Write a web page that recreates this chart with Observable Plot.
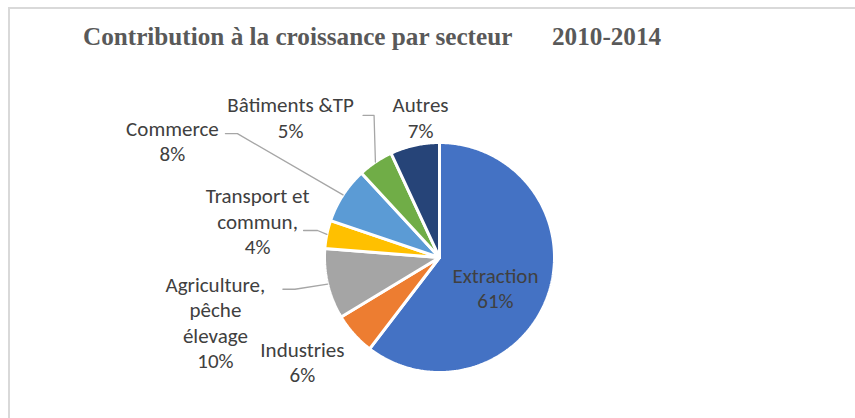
<!DOCTYPE html>
<html><head><meta charset="utf-8">
<script src="https://cdn.jsdelivr.net/npm/d3@7"></script>
<script src="https://cdn.jsdelivr.net/npm/@observablehq/plot@0.6"></script>
<style>
body{margin:0;background:#fff;}
#wrap{position:relative;width:855px;height:418px;overflow:hidden;}
#frame{position:absolute;left:8px;top:7px;width:900px;height:450px;border-left:2px solid #d9d9d9;border-top:2px solid #d9d9d9;}
#title{position:absolute;left:0;top:0;width:855px;height:62px;}
.t{position:absolute;top:23.5px;font:bold 25.2px "Liberation Serif","Times New Roman",serif;color:#595959;white-space:nowrap;line-height:26px;}
#chart{position:absolute;left:0;top:62px;}
</style></head><body>
<div id="wrap"><div id="frame"></div>
<div id="title"><span class="t" style="left:83px">Contribution à la croissance par secteur</span><span class="t" style="left:552px">2010-2014</span></div>
<div id="chart"></div></div>
<script>
// ---- data ----
const sectors = ["Extraction", "Industries", "Agriculture,\npêche\nélevage", "Transport et\ncommun,", "Commerce", "Bâtiments &TP", "Autres"];
const shares = [61, 6, 10, 4, 8, 5, 7];

// ---- styles / layout ----
const palette = ["#4472C4", "#ED7D31", "#A5A5A5", "#FFC000", "#5B9BD5", "#70AD47", "#264478"];
const labelRadius = [0.56, 1.506, 2.032, 1.611, 2.53, 1.769, 1.216];
const labelAngleOffset = [11, 4.2, -3.1, -0.7, -9.6, -13.2, 4.7];
const R = 115; // px radius
const fontSize = 21;
// leader start offset from label centre (px) and elbow length (px)
const leaderLayout = [null, null, [67.5, -34.5, 12], [46, 8, 14], [53, -8.5, 12], [72.5, -3.5, 11], null];

const total = d3.sum(shares);
let acc = 0;
const slices = sectors.map((s, i) => {
  const a0 = acc / total * 2 * Math.PI; acc += shares[i];
  const a1 = acc / total * 2 * Math.PI;
  const mid = (a0 + a1) / 2;
  const la = mid + labelAngleOffset[i] * Math.PI / 180;
  return {i, s, v: shares[i], a0, a1, mid, color: palette[i],
    lx: labelRadius[i] * Math.sin(la), ly: -labelRadius[i] * Math.cos(la),
    text: s + "\n" + shares[i] + "%"};
});

const marks = [];
for (const d of slices) {
  const pts = [{x: 0, y: 0}];
  const n = Math.max(2, Math.ceil((d.a1 - d.a0) / 0.01));
  for (let k = 0; k <= n; k++) {
    const a = d.a0 + (d.a1 - d.a0) * k / n;
    pts.push({x: Math.sin(a), y: -Math.cos(a)});
  }
  pts.push({x: 0, y: 0});
  marks.push(Plot.line(pts, {x: "x", y: "y", fill: d.color, stroke: "white", strokeWidth: 3, strokeLinejoin: "miter", curve: "linear"}));
}
for (const d of slices) {
  const L = leaderLayout[d.i];
  if (!L) continue;
  const sx = d.lx + L[0] / R, sy = d.ly + L[1] / R;
  const pts = [{x: sx, y: sy}, {x: sx + L[2] / R, y: sy}, {x: Math.sin(d.mid), y: -Math.cos(d.mid)}];
  marks.push(Plot.line(pts, {x: "x", y: "y", stroke: "#A6A6A6", strokeWidth: 1.3}));
}
marks.push(Plot.text(slices, {x: "lx", y: "ly", text: "text", fill: "#404040", fontSize, dy: -2,
  fontFamily: "Carlito, Calibri, Lato, sans-serif", lineHeight: 25.5 / fontSize, textAnchor: "middle", lineAnchor: "middle"}));

const cx = 439, cy = 257 - 62;
const chart = Plot.plot({
  width: 855, height: 356, margin: 0,
  x: {domain: [-1, 1], range: [cx - R, cx + R], axis: null},
  y: {domain: [-1, 1], range: [cy - R, cy + R], axis: null},
  style: {background: "transparent", overflow: "visible"},
  marks
});
document.getElementById("chart").appendChild(chart);
</script>
</body></html>
